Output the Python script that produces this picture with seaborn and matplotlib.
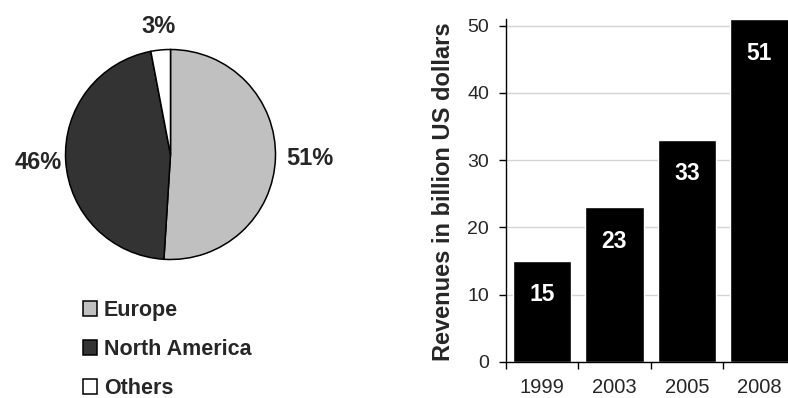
import matplotlib
matplotlib.use("Agg")
import matplotlib.pyplot as plt
from matplotlib.patches import Patch
import numpy as np
import seaborn as sns

# Revenue share by region
regions = ["Europe", "North America", "Others"]
shares = [51, 46, 3]
region_colors = ["#c0c0c0", "#333333", "#ffffff"]

# Revenues over time
years = ["1999", "2003", "2005", "2008"]
revenues = [15, 23, 33, 51]

sns.set_style("white")
plt.rcParams["font.family"] = ["Liberation Sans", "DejaVu Sans"]

W, H = 788, 398
fig = plt.figure(figsize=(W / 100, H / 100), dpi=100)

# ---------------- pie chart ----------------
cx, cy, r = 170.5, 154.5, 105.0
half = r * 1.25
ax_pie = fig.add_axes([(cx - half) / W, (H - cy - half) / H, 2 * half / W, 2 * half / H])
wedges, _ = ax_pie.pie(
    shares,
    colors=region_colors,
    startangle=90,
    counterclock=False,
    wedgeprops=dict(edgecolor="black", linewidth=1.1),
)
ax_pie.set_xlim(-1.25, 1.25)
ax_pie.set_ylim(-1.25, 1.25)
ax_pie.set_aspect("equal")

label_dist = [1.33, 1.26, 1.22]
for w, s, d in zip(wedges, shares, label_dist):
    ang = np.deg2rad((w.theta1 + w.theta2) / 2)
    ax_pie.text(d * np.cos(ang), d * np.sin(ang), f"{s}%",
                ha="center", va="center", fontsize=17, fontweight="bold")

handles = [Patch(facecolor=c, edgecolor="black", linewidth=1.1) for c in region_colors]
fig.legend(
    handles, regions,
    loc="upper left", bbox_to_anchor=(83 / W, 1 - 300 / H),
    frameon=False, borderpad=0, borderaxespad=0,
    handlelength=0.65, handleheight=0.65, handletextpad=0.33,
    labelspacing=0.84, prop=dict(size=15.5, weight="bold"),
)

# ---------------- bar chart ----------------
x0, x1, yb, yt = 505.7, 795.7, 361.7, 19.0
ax = fig.add_axes([x0 / W, (H - yb) / H, (x1 - x0) / W, (yb - yt) / H])
sns.barplot(x=years, y=revenues, color="black", saturation=1, width=0.81, ax=ax)
ax.set_xlim(-0.5, 3.5)
ax.set_ylim(0, 51)
ax.set_yticks([0, 10, 20, 30, 40, 50])
ax.yaxis.grid(True, color="#d4d4d4", linewidth=1.0)
ax.set_axisbelow(True)
for side in ["top", "right"]:
    ax.spines[side].set_visible(False)
for side in ["left", "bottom"]:
    ax.spines[side].set_color("black")
    ax.spines[side].set_linewidth(1.0)

ax.set_xticks(np.arange(-0.5, 3.6, 1.0), minor=True)
ax.tick_params(axis="x", which="minor", direction="out", length=5, width=1, color="black", bottom=True)
ax.tick_params(axis="x", which="major", length=0, pad=11.5, labelsize=14.5)
ax.tick_params(axis="y", direction="out", length=5, width=1, color="black", left=True, pad=7, labelsize=14)

ax.set_xlabel("")
ax.set_ylabel("Revenues in billion US dollars", fontsize=17, fontweight="bold")
ax.yaxis.set_label_coords(-0.175, 0.495)

for i, v in enumerate(revenues):
    ax.annotate(str(v), xy=(i, v), xytext=(0, -24.5), textcoords="offset points",
                ha="center", va="center", color="white", fontsize=16.5, fontweight="bold")

fig.savefig("out.png", dpi=100)
